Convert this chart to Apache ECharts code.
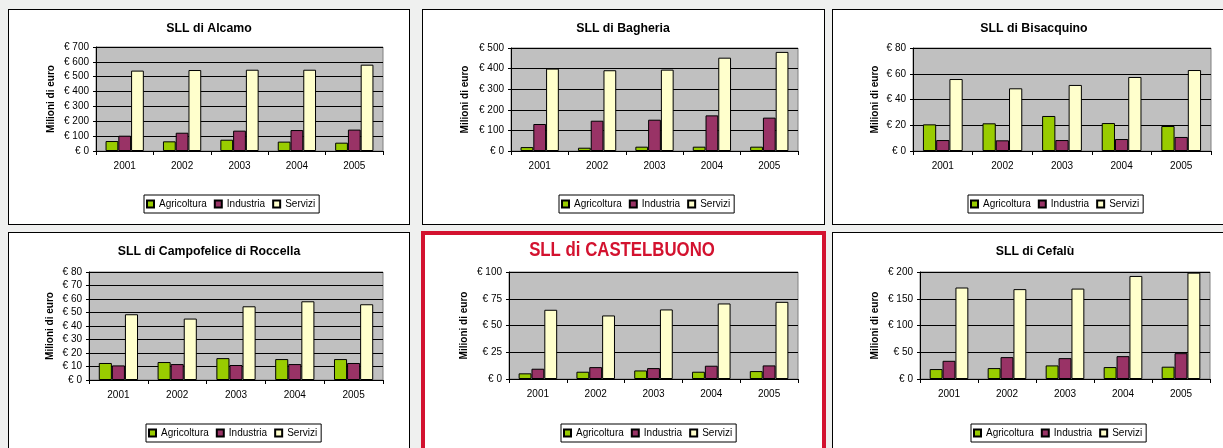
<!DOCTYPE html>
<html>
<head>
<meta charset="utf-8">
<script src="https://cdn.jsdelivr.net/npm/echarts@6/dist/echarts.min.js"></script>
<style>
  html, body { margin: 0; padding: 0; background: #eff0ef; overflow: hidden; }
  .pannello { position: absolute; background: #fff; border: 1px solid #000; box-sizing: border-box; }
  .rosso { border: 4px solid #d3122f; }
  #grafico { position: absolute; left: 0; top: 0; width: 1223px; height: 448px; }
</style>
</head>
<body>
<div class="pannello" style="left:8px;top:9px;width:402px;height:216px"></div>
<div class="pannello" style="left:422px;top:9px;width:403px;height:216px"></div>
<div class="pannello" style="left:832px;top:9px;width:402px;height:216px"></div>
<div class="pannello" style="left:8px;top:232px;width:402px;height:230px"></div>
<div class="pannello rosso" style="left:421px;top:231px;width:405px;height:230px"></div>
<div class="pannello" style="left:832px;top:232px;width:402px;height:230px"></div>
<div id="grafico"></div>
<script>
// dati (milioni di euro)
const anni = ['2001', '2002', '2003', '2004', '2005']
const settori = ['Agricoltura', 'Industria', 'Servizi']
const titoli = ['SLL di Alcamo', 'SLL di Bagheria', 'SLL di Bisacquino',
  'SLL di Campofelice di Roccella', 'SLL di CASTELBUONO', 'SLL di Cefalù']

const alcamoAgricoltura = [67, 65, 76, 63, 56]
const alcamoIndustria = [103, 123, 137, 141, 144]
const alcamoServizi = [541, 545, 547, 547, 581]

const bagheriaAgricoltura = [19, 16, 21, 21, 21]
const bagheriaIndustria = [131, 147, 152, 173, 162]
const bagheriaServizi = [400, 392, 395, 453, 481]

const bisacquinoAgricoltura = [20.7, 21.5, 27.2, 21.7, 19.4]
const bisacquinoIndustria = [8.5, 8.3, 8.5, 9.3, 10.9]
const bisacquinoServizi = [55.9, 48.7, 51.3, 57.5, 62.9]

const campofeliceAgricoltura = [12.6, 13.3, 16.2, 15.5, 15.5]
const campofeliceIndustria = [10.8, 11.8, 11.1, 11.8, 12.6]
const campofeliceServizi = [48.7, 45.5, 54.6, 58.3, 56.1]

const castelbuonoAgricoltura = [5.3, 6.8, 8.0, 6.8, 7.4]
const castelbuonoIndustria = [9.6, 11.1, 10.2, 12.4, 12.7]
const castelbuonoServizi = [64.7, 59.4, 65.0, 70.6, 72.1]

const cefaluAgricoltura = [18.6, 20.4, 25.4, 22.3, 23.0]
const cefaluIndustria = [34, 40.9, 39, 42.7, 48.3]
const cefaluServizi = [171, 168, 169, 192.6, 198.8]

const yMax = [700, 500, 80, 80, 100, 200]
const yStep = [100, 100, 20, 10, 25, 50]

const valori = [
  [alcamoAgricoltura, alcamoIndustria, alcamoServizi],
  [bagheriaAgricoltura, bagheriaIndustria, bagheriaServizi],
  [bisacquinoAgricoltura, bisacquinoIndustria, bisacquinoServizi],
  [campofeliceAgricoltura, campofeliceIndustria, campofeliceServizi],
  [castelbuonoAgricoltura, castelbuonoIndustria, castelbuonoServizi],
  [cefaluAgricoltura, cefaluIndustria, cefaluServizi]
]

// impaginazione (px sulla pagina)
const griglie = [
  { left: 96, top: 47, width: 287, height: 104 },
  { left: 511, top: 48, width: 287, height: 103 },
  { left: 913, top: 48, width: 298, height: 103 },
  { left: 89, top: 272, width: 294, height: 108 },
  { left: 509, top: 272, width: 289, height: 107 },
  { left: 920, top: 272, width: 290, height: 107 }
]
const posTitoli = [[209, 23], [623, 23], [1034, 23], [209, 246], [622, 250], [1035, 246]]
const posLegende = [[144, 195], [559, 195], [968, 195], [146, 424], [561, 424], [971, 424]]
const gapNome = [40, 41, 33, 34, 40, 40]
const colori = ['#99cc00', '#993366', '#ffffcc']
const font = 'Liberation Sans, Arial, sans-serif'

const option = {
  animation: false,
  // il titolo rosso di Castelbuono è in carattere stretto: lo disegno come testo grafico compresso
  title: titoli.map((t, i) => ({
    show: i !== 4,
    text: t,
    left: posTitoli[i][0],
    top: posTitoli[i][1],
    textAlign: 'center',
    padding: 0,
    textStyle: { fontSize: 12.3, fontWeight: 'bold', color: '#000', fontFamily: font }
  })),
  graphic: [{
    type: 'text',
    x: posTitoli[4][0],
    y: posTitoli[4][1],
    scaleX: 0.84,
    style: {
      text: titoli[4],
      x: 0,
      y: 0,
      align: 'center',
      verticalAlign: 'middle',
      fill: '#d3122f',
      font: 'bold 20px "Liberation Sans", Arial, sans-serif'
    }
  }],
  legend: posLegende.map(p => ({
    data: settori,
    left: p[0],
    top: p[1],
    orient: 'horizontal',
    padding: [4, 4, 4, 2],
    itemWidth: 7,
    itemHeight: 7,
    itemGap: 7,
    borderColor: '#000',
    borderWidth: 1,
    backgroundColor: '#fff',
    icon: 'rect',
    selectedMode: false,
    textStyle: { fontSize: 10, color: '#000', fontFamily: font }
  })),
  grid: griglie.map(g => ({
    ...g,
    show: true,
    backgroundColor: '#c0c0c0',
    borderColor: '#808080',
    borderWidth: 1
  })),
  xAxis: griglie.map((g, i) => ({
    type: 'category',
    gridIndex: i,
    data: anni,
    axisLine: { lineStyle: { color: '#000', width: 1 } },
    axisTick: { show: true, length: 4, lineStyle: { color: '#000' } },
    axisLabel: { color: '#000', fontSize: 10, margin: 10, fontFamily: font }
  })),
  yAxis: griglie.map((g, i) => ({
    type: 'value',
    gridIndex: i,
    min: 0,
    max: yMax[i],
    interval: yStep[i],
    name: 'Milioni di euro',
    nameLocation: 'middle',
    nameGap: gapNome[i],
    nameTextStyle: { fontSize: 10, fontWeight: 'bold', color: '#000', fontFamily: font },
    axisLine: { show: true, lineStyle: { color: '#000', width: 1 } },
    axisTick: { show: true, length: 3, lineStyle: { color: '#000' } },
    axisLabel: { color: '#000', fontSize: 10, margin: 7, fontFamily: font, formatter: v => '€ ' + v },
    splitLine: { show: true, lineStyle: { color: '#000', width: 1 } }
  })),
  series: []
}

valori.forEach((gruppo, i) => {
  gruppo.forEach((dati, s) => {
    option.series.push({
      type: 'bar',
      name: settori[s],
      xAxisIndex: i,
      yAxisIndex: i,
      data: dati,
      barGap: '0%',
      barCategoryGap: '33.3%',
      itemStyle: { color: colori[s], borderColor: '#000', borderWidth: 1 }
    })
  })
})

const chart = echarts.init(document.getElementById('grafico'))
chart.setOption(option)
</script>
</body>
</html>
